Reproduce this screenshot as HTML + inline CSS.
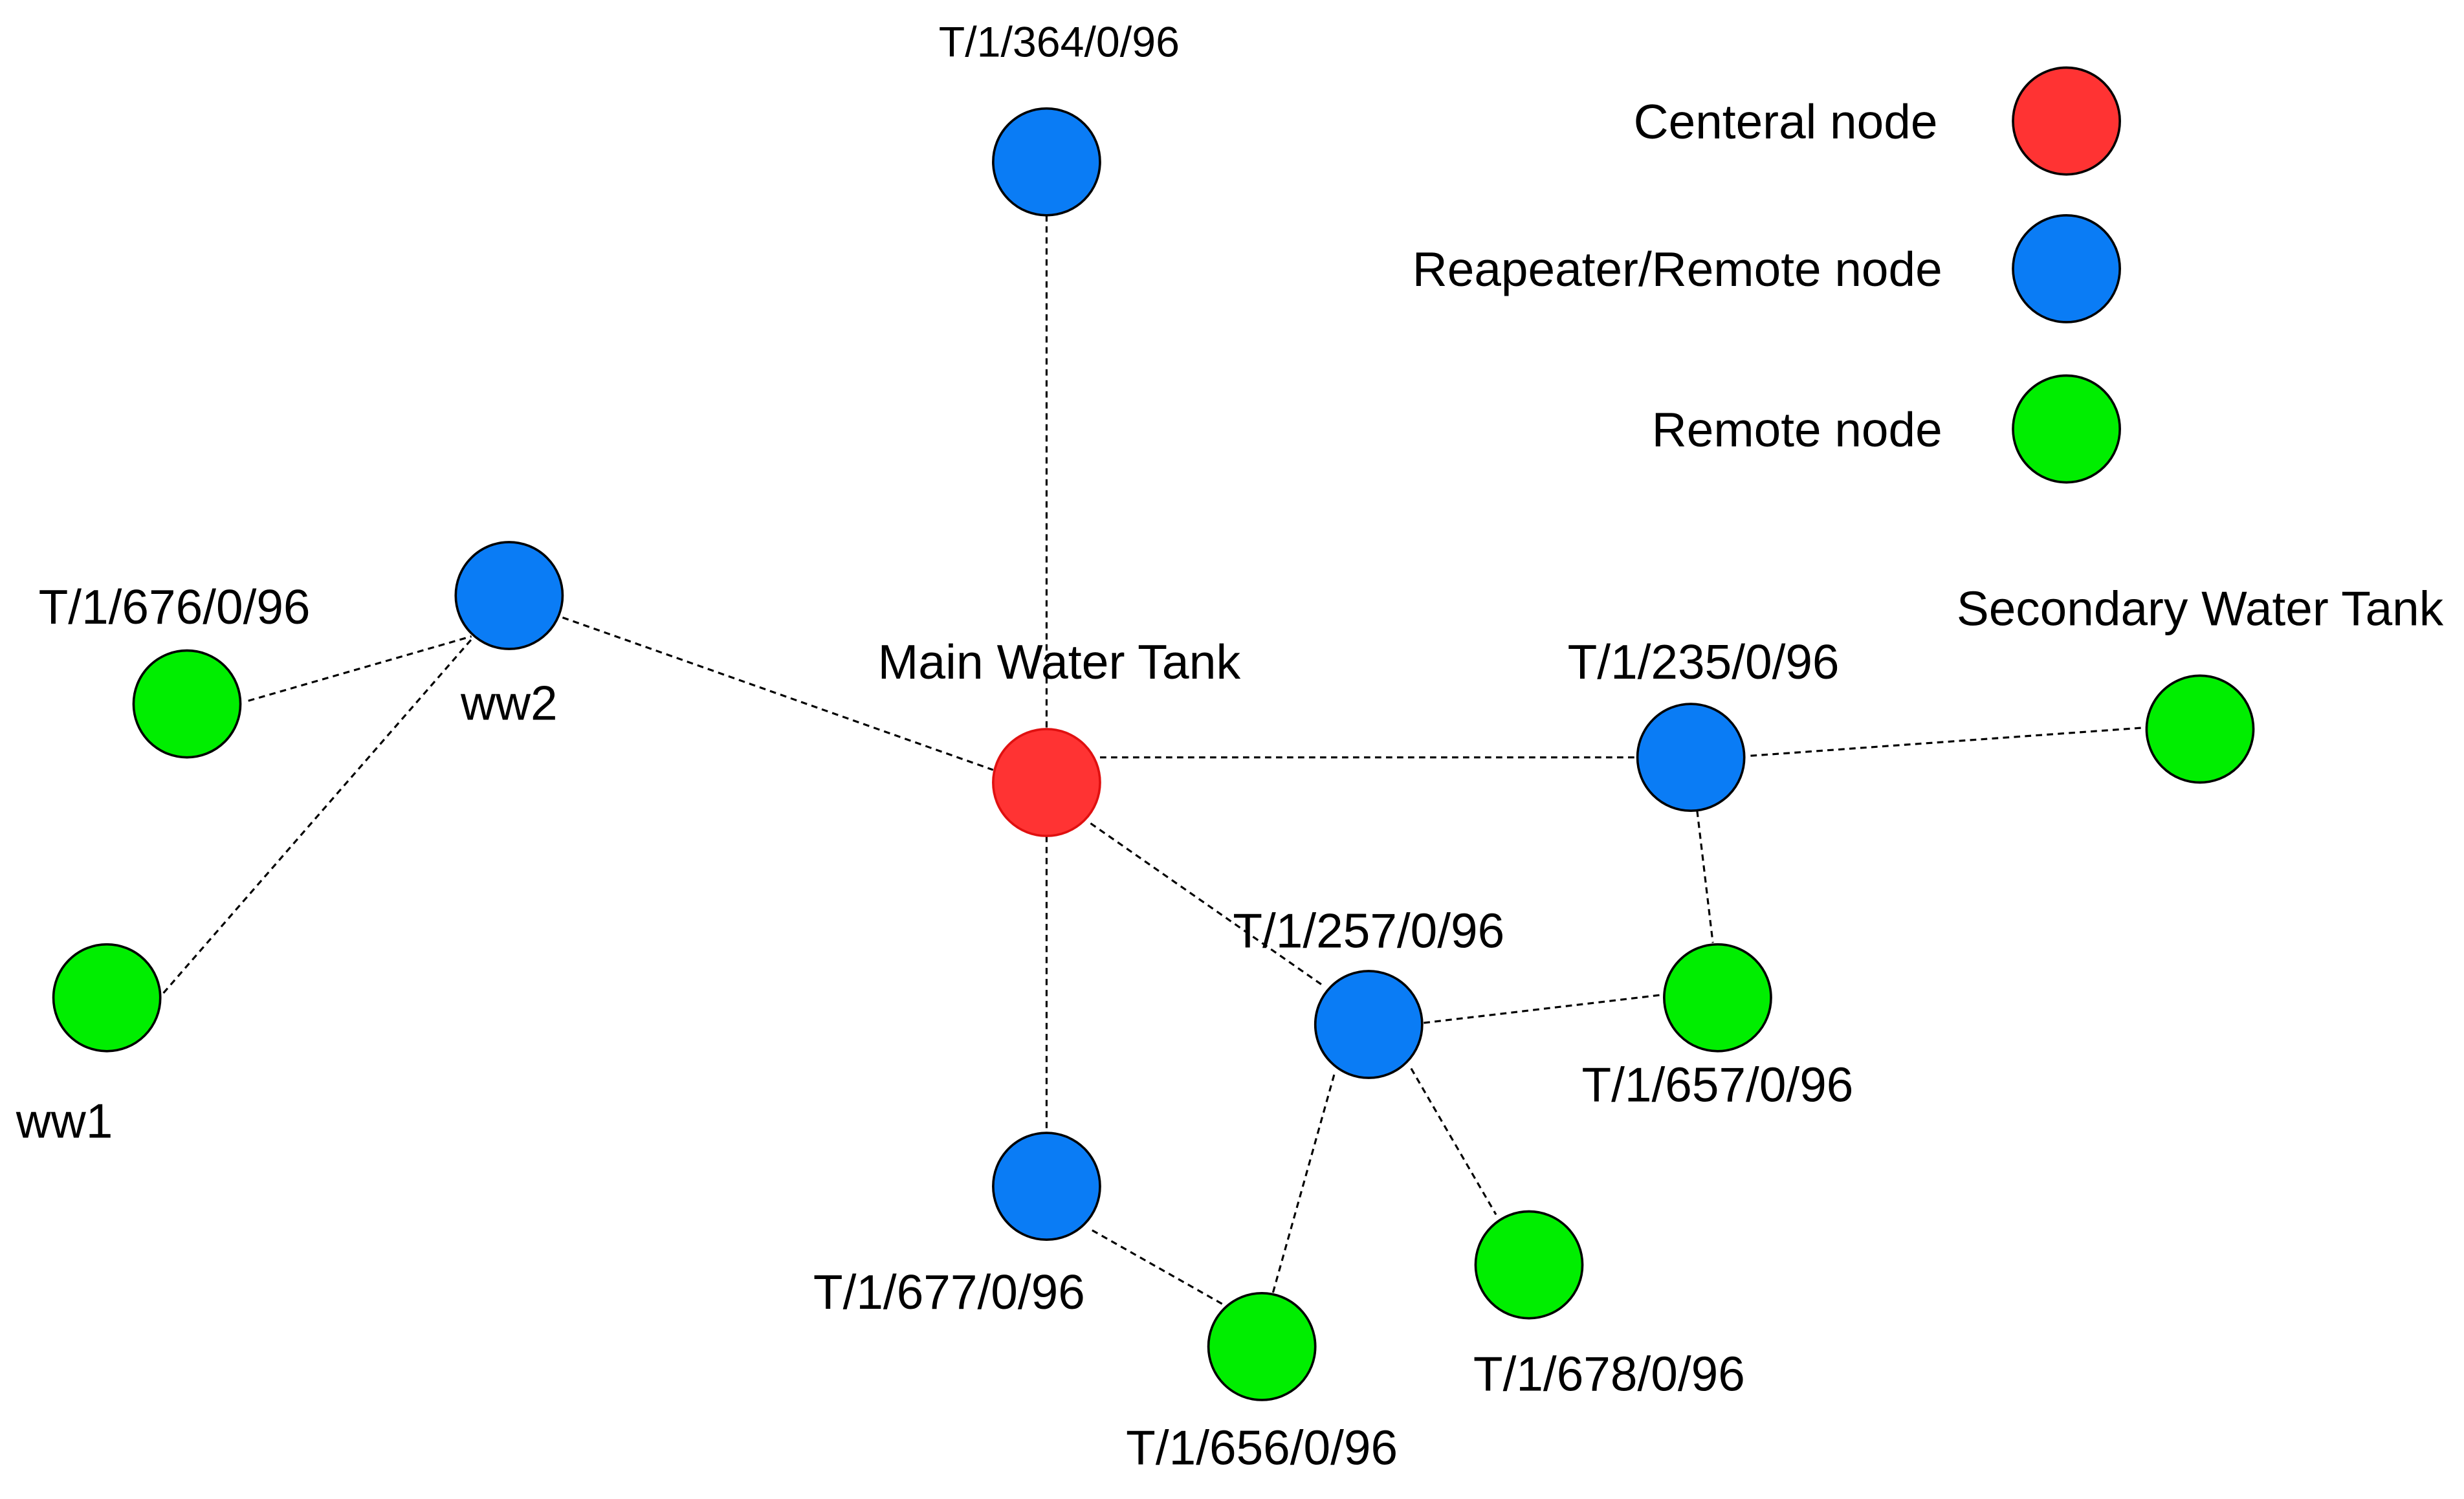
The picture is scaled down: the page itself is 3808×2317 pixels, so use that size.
<!DOCTYPE html>
<html><head><meta charset="utf-8"><style>
html,body{margin:0;padding:0;background:#fff}
svg{display:block}
text{font-family:"Liberation Sans",Arial,sans-serif;fill:#000}
</style></head><body>
<svg width="3808" height="2317" viewBox="0 0 1568 954" xmlns="http://www.w3.org/2000/svg">
<rect width="1568" height="954" fill="#fff"/>
<g stroke="#000" stroke-width="1.3" stroke-dasharray="4 3" fill="none">
<line x1="666" y1="137" x2="666" y2="464"/>
<line x1="358" y1="393" x2="632" y2="490"/>
<line x1="158" y1="446" x2="300" y2="405"/>
<line x1="104" y1="632" x2="306" y2="400"/>
<line x1="700" y1="482" x2="1042" y2="482"/>
<line x1="1114" y1="481" x2="1366" y2="463"/>
<line x1="1080" y1="516" x2="1090" y2="600"/>
<line x1="694" y1="524" x2="843" y2="628"/>
<line x1="666" y1="532" x2="666" y2="721"/>
<line x1="906" y1="651" x2="1059" y2="633"/>
<line x1="849" y1="684" x2="810" y2="823"/>
<line x1="898" y1="680" x2="952" y2="773"/>
<line x1="695" y1="783" x2="778" y2="830"/>
</g>
<g stroke="#000" stroke-width="1.5">
<circle cx="666" cy="103" r="34" fill="#0a7cf5"/>
<circle cx="666" cy="498" r="34" fill="#ff3333" stroke="#e01010"/>
<circle cx="324" cy="379" r="34" fill="#0a7cf5"/>
<circle cx="119" cy="448" r="34" fill="#00ee00"/>
<circle cx="68" cy="635" r="34" fill="#00ee00"/>
<circle cx="1076" cy="482" r="34" fill="#0a7cf5"/>
<circle cx="1400" cy="464" r="34" fill="#00ee00"/>
<circle cx="871" cy="652" r="34" fill="#0a7cf5"/>
<circle cx="1093" cy="635" r="34" fill="#00ee00"/>
<circle cx="666" cy="755" r="34" fill="#0a7cf5"/>
<circle cx="803" cy="857" r="34" fill="#00ee00"/>
<circle cx="973" cy="805" r="34" fill="#00ee00"/>
<circle cx="1315" cy="77" r="34" fill="#ff3333"/>
<circle cx="1315" cy="171" r="34" fill="#0a7cf5"/>
<circle cx="1315" cy="273" r="34" fill="#00ee00"/>
</g>
<g font-size="30.8" text-anchor="middle">
<text x="674" y="36" font-size="27.3">T/1/364/0/96</text>
<text x="111" y="397">T/1/676/0/96</text>
<text x="324" y="458">ww2</text>
<text x="674" y="432" font-size="31">Main Water Tank</text>
<text x="1084" y="432">T/1/235/0/96</text>
<text x="1400" y="398">Secondary Water Tank</text>
<text x="871" y="603">T/1/257/0/96</text>
<text x="1093" y="701">T/1/657/0/96</text>
<text x="41" y="724">ww1</text>
<text x="604" y="833">T/1/677/0/96</text>
<text x="1024" y="885">T/1/678/0/96</text>
<text x="803" y="932">T/1/656/0/96</text>
</g>
<g font-size="30.8" text-anchor="end">
<text x="1233" y="88">Centeral node</text>
<text x="1236" y="182">Reapeater/Remote node</text>
<text x="1236" y="284">Remote node</text>
</g>
</svg>
</body></html>
